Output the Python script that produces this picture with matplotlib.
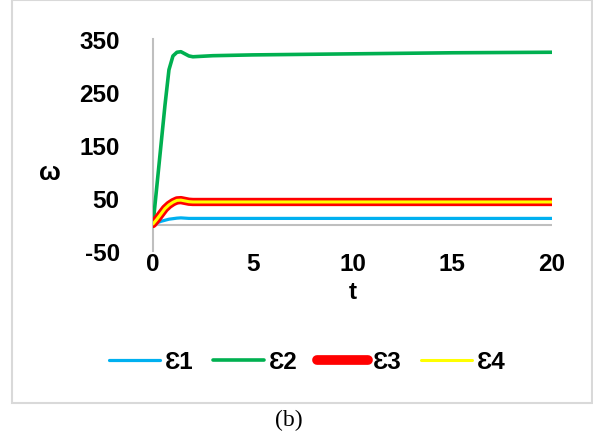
import matplotlib

matplotlib.use("Agg")

import matplotlib.pyplot as plt
from matplotlib.patches import Rectangle

plt.rcParams["axes.unicode_minus"] = False

# sampled solution curves
t = [0, 0.2, 0.4, 0.6, 0.8, 1.0, 1.2, 1.4, 1.6, 1.8, 2.0, 2.5, 3, 5, 10, 15, 20]
eps1 = [0, 3, 6, 8, 10, 11, 12, 12.5, 12, 11.5, 11.5, 11.5, 11.5, 11.5, 11.5, 11.5, 11.5]
eps2 = [0, 75, 150, 225, 292, 318, 325, 326, 322, 318, 316.5, 317.5, 318.5, 320, 322, 324, 325]
eps3 = [1, 10, 20, 30, 37, 42, 45.5, 46, 44.5, 43, 42.5, 42.5, 42.5, 42.5, 42.5, 42.5, 42.5]
eps4 = [1, 10, 20, 30, 37, 42, 45.5, 46, 44.5, 43, 42.5, 42.5, 42.5, 42.5, 42.5, 42.5, 42.5]

xticks = [0, 5, 10, 15, 20]
yticks = [-50, 50, 150, 250, 350]
names = ["Ɛ1", "Ɛ2", "Ɛ3", "Ɛ4"]

W, H = 593, 439
fig = plt.figure(figsize=(W / 100, H / 100), dpi=100)
fam = ["Liberation Sans", "DejaVu Sans"]
fs = 17.5

# outer frame around the chart
fig.patches.append(Rectangle((12 / W, 1 - 404 / H), 580 / W, 403 / H,
                             transform=fig.transFigure, fill=False,
                             edgecolor="#d9d9d9", linewidth=1.5))

ax = fig.add_axes([153 / W, 1 - 252 / H, 399 / W, 212 / H])

l1, = ax.plot(t, eps1, color="#00b0f0", lw=2.3, solid_capstyle="round")
l2, = ax.plot(t, eps2, color="#00b050", lw=2.6, solid_capstyle="round")
l3, = ax.plot(t, eps3, color="#ff0000", lw=6.0, solid_capstyle="round")
l4, = ax.plot(t, eps4, color="#ffff00", lw=2.2, solid_capstyle="round")

ax.set_xlim(0, 20)
ax.set_ylim(-50, 350)
ax.set_xticks(xticks)
ax.set_yticks(yticks)
ax.axhline(0, color="#bfbfbf", lw=1.5, zorder=0)

for s in ["top", "right", "bottom"]:
    ax.spines[s].set_visible(False)
ax.spines["left"].set_color("#bfbfbf")
ax.spines["left"].set_linewidth(1.5)
ax.spines["left"].set_zorder(0)

ax.tick_params(length=0)
ax.tick_params(axis="y", pad=24)
ax.tick_params(axis="x", pad=1)
for lab in ax.get_xticklabels() + ax.get_yticklabels():
    lab.set_family(fam)
    lab.set_fontsize(fs)
    lab.set_fontweight("bold")

ax.set_xlabel("t", family=fam, fontsize=fs, fontweight="bold", labelpad=3)
ax.set_ylabel("ω", family=fam, fontsize=fs + 1, fontweight="bold",
              rotation=0, ha="center", va="center")
ax.yaxis.set_label_coords(-0.258, 0.373)

leg = fig.legend([l1, l2, l3, l4], names, loc="center",
                 bbox_to_anchor=(307 / W, 1 - 363 / H), ncol=4, frameon=False,
                 handlelength=2.1, handletextpad=0.2, columnspacing=0.8,
                 prop={"family": fam, "size": fs, "weight": "bold"})
leg.get_lines()[2].set_linewidth(7)

fig.text(289 / W, 1 - 420 / H, "(b)", family="Liberation Serif", fontsize=17,
         ha="center", va="center")

fig.savefig("out.png", dpi=100)
